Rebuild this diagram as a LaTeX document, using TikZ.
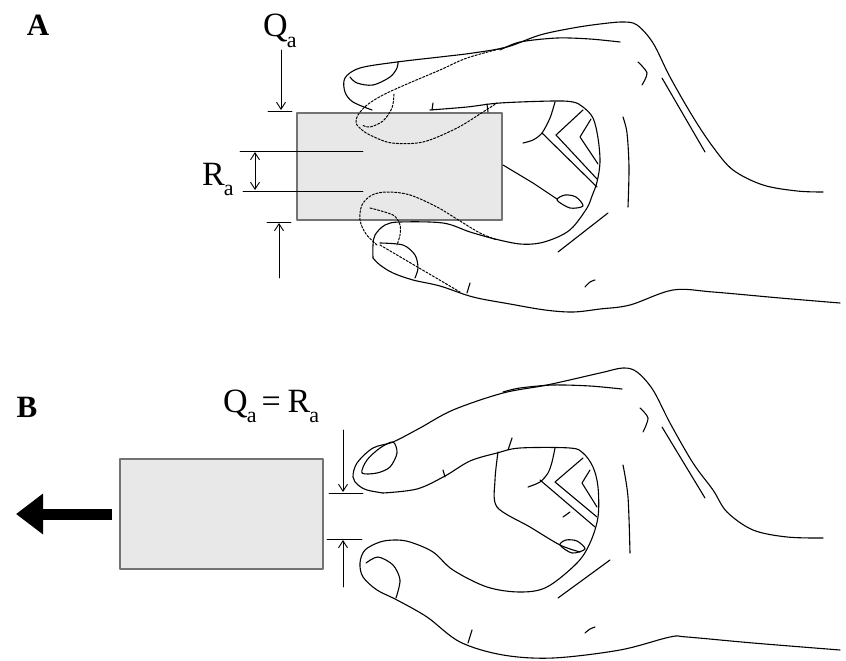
\documentclass[tikz,border=0pt]{standalone}
\usepackage{fontspec}
\setmainfont{Liberation Serif}
\usetikzlibrary{arrows.meta}

\newcommand{\idx}[1]{\kern-1pt\raisebox{-0.3em}{\fontsize{22}{22}\selectfont #1}}

\tikzset{
  hand/.style={line width=1.1pt, line cap=round, line join=round},
  hidden/.style={line width=1pt, dash pattern=on 2.2pt off 1.6pt},
  card/.style={draw=black!55, fill=black!9, line width=1.4pt, inner sep=0pt},
  dim/.style={line width=0.9pt},
  lbl/.style={font=\fontsize{34}{36}\selectfont, inner sep=0pt, anchor=base west},
  panel/.style={font=\bfseries\fontsize{31}{33}\selectfont, inner sep=0pt}
}

\begin{document}
\begin{tikzpicture}[x=1pt, y=-1pt, >={Straight Barb[length=7pt,width=9pt]}, line cap=round, line join=round]
    \useasboundingbox (0,0) rectangle (846,661);

    % panel A
    \node[panel] (pA) at (38,25) {A};
    \node[card, minimum width=205pt, minimum height=107pt] (cardA) at (399.5,166.5) {};

    \node[lbl] (qA) at (263,37) {Q\idx{a}};
    \node[lbl] (rA) at (202,185) {R\idx{a}};
    \coordinate (qA1) at (281,50);  \coordinate (qA2) at (281,110);
    \coordinate (qA3) at (279,278); \coordinate (qA4) at (279,223);
    \draw[dim, ->] (qA1) -- (qA2);
    \draw[dim] (268,111) -- (292,111);
    \draw[dim] (267,222) -- (291,222);
    \draw[dim, ->] (qA3) -- (qA4);
    \draw[dim] (240,151) -- (363,151);
    \draw[dim] (243,191) -- (363,191);
    \draw[dim, <->] (255,152) -- (255,190);

    % hand A, outline
    \draw[hand] plot[smooth, tension=0.55] coordinates {(372,110) (353,102) (345,92) (345,78) (360,68) (397,62) (440,57) (473,53) (507,47) (540,35) (573,28) (600,24) (623,22) (637,25) (653,43) (670,77) (693,117) (713,147) (733,170) (763,185) (797,191) (823,192)};
    \draw[hand] plot[smooth, tension=0.55] coordinates {(350,77) (357,83) (373,85) (390,77) (397,68) (398,62)};
    \draw[hand] plot[smooth] coordinates {(500,50) (520,42) (557,38) (590,39) (620,42)};
    \draw[hand] plot[smooth] coordinates {(638,62) (647,73) (642,85)};
    \draw[hand] (662,78) -- (705,152);
    \draw[hand] plot[smooth] coordinates {(623,117) (627,133) (629,167) (628,207)};
    \draw[hand] plot[smooth, tension=0.55] coordinates {(373,258) (380,265) (393,273) (413,280) (440,286) (473,297) (510,304) (545,310) (573,312) (600,309) (630,305) (673,290) (713,292) (780,298) (840,303)};
    \draw[hand] plot[smooth, tension=0.55] coordinates {(373,258) (373,245) (375,235) (385,225) (400,222) (443,223) (470,232) (495,239) (520,244) (540,243) (560,236) (573,227) (587,208) (592,196) (597,182) (600,162) (598,138) (593,118) (583,107) (573,102) (553,101) (500,103) (467,107) (430,110)};
    \draw[hand] (432,110) -- (433,103);
    \draw[hand] (487,104) -- (488,112);
    % palm creases A
    \draw[hand] (503,165) -- (533,183) -- (557,199);
    \draw[hand] plot[smooth cycle] coordinates {(557,200) (565,195) (576,197) (583,206) (570,208)};
    \draw[hand] plot[smooth] coordinates {(555,102) (550,118) (542,133) (533,140) (523,143)};
    \draw[hand] (583,110) -- (556,135) -- (597,179);
    \draw[hand] (591,119) -- (580,137) -- (598,164);
    \draw[hand] (542,133) -- (597,187);
    \draw[hand] (558,252) -- (608,213);
    \draw[hand] plot[smooth] coordinates {(585,287) (590,282) (595,280)};
    % lower fingertip A
    \draw[hand] plot[smooth] coordinates {(380,243) (403,245) (415,255) (418,268) (415,278)};
    \draw[hand] (470,283) -- (467,293);
    % hidden parts A
    \draw[hidden] plot[smooth, tension=0.55] coordinates {(503,48) (467,58) (440,70) (407,84) (383,95) (367,105) (358,115) (356,123) (362,130) (372,136) (392,143) (423,142) (457,128) (483,112) (497,103)};
    \draw[hidden] plot[smooth] coordinates {(394,94) (392,108) (383,121) (370,127) (362,125)};
    \draw[hidden] plot[smooth, tension=0.55] coordinates {(377,245) (366,234) (360,220) (362,205) (372,195) (388,192) (410,195) (437,207) (460,221) (480,233) (497,240)};
    \draw[hidden] plot[smooth] coordinates {(370,208) (393,215) (400,225) (400,235) (397,245)};
    \draw[hidden] (380,245) -- (460,292);

    % panel B
    \node[panel] (pB) at (27,407) {B};
    \node[card, minimum width=203pt, minimum height=110pt] (cardB) at (221.5,514) {};
    \draw[line width=11pt, line cap=butt, -{Triangle[length=27pt,width=39pt]}] ([xshift=-7pt]cardB.west) -- (16,514);

    \node[lbl] (qB) at (223,412) {Q\idx{a}\hspace{5pt}=\hspace{7pt}R\idx{a}};
    \coordinate (qB1) at (343,430); \coordinate (qB2) at (343,492);
    \coordinate (qB3) at (343,587); \coordinate (qB4) at (343,540);
    \draw[dim] (329,493) -- (363,493);
    \draw[dim, ->] (qB1) -- (qB2);
    \draw[dim] (327,539) -- (362,539);
    \draw[dim, ->] (qB3) -- (qB4);

    % hand B, outline
    \draw[hand] plot[smooth, tension=0.55] coordinates {(383,493) (367,490) (358,485) (353,477) (357,463) (373,448) (393,442) (420,428) (453,410) (503,393) (547,385) (600,373) (623,368) (637,372) (653,390) (670,423) (693,463) (713,490) (727,512) (753,530) (787,537) (823,538)};
    \draw[hand] plot[smooth, tension=0.55] coordinates {(383,493) (417,489) (445,476) (470,461) (497,453) (520,448) (570,448) (583,453) (593,467) (598,487) (598,517) (590,543) (577,563) (547,587) (520,592) (487,587) (453,570) (433,552) (410,542) (395,540) (380,542) (365,550) (360,563) (363,577) (377,590) (397,600) (427,617) (460,642) (503,655) (553,658) (620,650) (670,637) (687,637) (753,643) (840,650)};
    \draw[hand] plot[smooth cycle] coordinates {(362,473) (367,460) (380,448) (393,442) (397,453) (390,467) (377,473)};
    \draw[hand] plot[smooth] coordinates {(366,563) (378,557) (393,565) (400,580) (396,598)};
    \draw[hand] plot[smooth] coordinates {(503,392) (520,388) (553,385) (590,386) (622,389)};
    \draw[hand] plot[smooth] coordinates {(640,408) (648,418) (643,432)};
    \draw[hand] (662,427) -- (705,498);
    \draw[hand] plot[smooth] coordinates {(623,465) (628,497) (630,553)};
    \draw[hand] (443,470) -- (445,477);
    \draw[hand] (512,438) -- (508,450);
    \draw[hand] (472,630) -- (468,643);
    % palm creases B
    \draw[hand] plot[smooth, tension=0.5] coordinates {(498,452) (495,480) (497,507) (530,527) (560,545) (580,552)};
    \draw[hand] plot[smooth cycle] coordinates {(560,545) (566,540) (577,541) (585,549) (572,553)};
    \draw[hand] plot[smooth] coordinates {(555,448) (552,462) (548,473) (540,482) (528,487)};
    \draw[hand] (583,458) -- (555,482) -- (597,517);
    \draw[hand] (590,470) -- (582,483) -- (597,507);
    \draw[hand] (540,480) -- (595,527);
    \draw[hand] (563,517) -- (570,512);
    \draw[hand] (558,598) -- (610,560);
    \draw[hand] plot[smooth] coordinates {(585,633) (590,629) (595,627)};
\end{tikzpicture}
\end{document}
